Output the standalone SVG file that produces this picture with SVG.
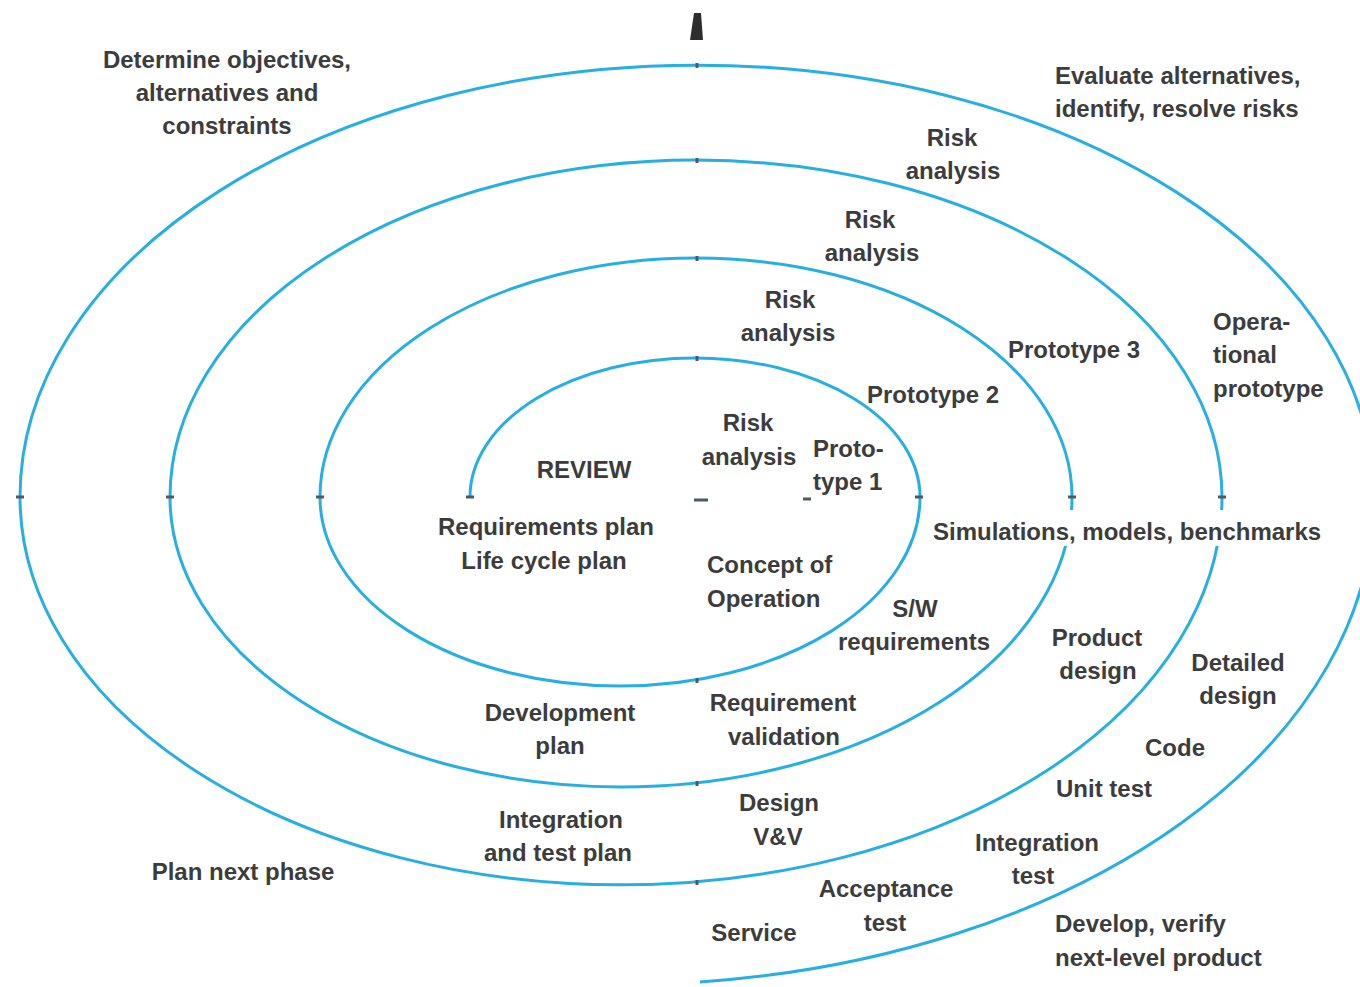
<svg xmlns="http://www.w3.org/2000/svg" width="1360" height="987" viewBox="0 0 1360 987">
<style>
.arc{fill:none;stroke:#27afe3;stroke-width:3}
.tick{stroke:#4b5b66;stroke-width:3}
text{font-family:"Liberation Sans",Arial,sans-serif;font-size:24px;font-weight:bold;fill:#3c3c3c}
.m{text-anchor:middle}
</style>
<rect width="1360" height="987" fill="#ffffff"/>
<g id="connectors">
<path class="arc" d="M470,497 A225,139 0 0 1 920,497 A300,189 0 0 1 320,497 A376,239 0 0 1 1072,497 A451,290 0 0 1 170,497 A526,337 0 0 1 1222,497 A601,388 0 0 1 20,497 A677,432 0 0 1 1374,497 A753,487 0 0 1 700,982"/>
</g>
<g id="axis-marks">
<path d="M694,13 L701,13 L703,40 L690,40 Z" fill="#2e2e2e"/>
<g class="tick">
<line x1="16" y1="497" x2="24" y2="497"/>
<line x1="166" y1="497" x2="174" y2="497"/>
<line x1="316" y1="497" x2="324" y2="497"/>
<line x1="466" y1="497" x2="474" y2="497"/>
<line x1="915" y1="497" x2="923" y2="497"/>
<line x1="1068" y1="497" x2="1076" y2="497"/>
<line x1="1218" y1="497" x2="1226" y2="497"/>
<line x1="694" y1="500" x2="708" y2="500"/>
<line x1="803" y1="499" x2="811" y2="499"/>
<line x1="697" y1="63" x2="697" y2="68"/>
<line x1="697" y1="158" x2="697" y2="163"/>
<line x1="697" y1="256" x2="697" y2="261"/>
<line x1="697" y1="356" x2="697" y2="361"/>
<line x1="697" y1="678" x2="697" y2="683"/>
<line x1="697" y1="781" x2="697" y2="786"/>
<line x1="697" y1="880" x2="697" y2="885"/>
</g>
</g>
<g id="determine"><text class="m" x="227" y="68">Determine objectives,</text><text class="m" x="227" y="101">alternatives and</text><text class="m" x="227" y="134">constraints</text></g>
<g id="evaluate"><text x="1055" y="84">Evaluate alternatives,</text><text x="1055" y="117">identify, resolve risks</text></g>
<g id="risk4"><text class="m" x="952" y="146">Risk</text><text class="m" x="953" y="179">analysis</text></g>
<g id="risk3"><text class="m" x="870" y="228">Risk</text><text class="m" x="872" y="261">analysis</text></g>
<g id="risk2"><text class="m" x="790" y="308">Risk</text><text class="m" x="788" y="341">analysis</text></g>
<g id="risk1"><text class="m" x="748" y="431">Risk</text><text class="m" x="749" y="465">analysis</text></g>
<g id="proto1"><text x="813" y="457">Proto-</text><text x="813" y="490">type 1</text></g>
<g id="proto2"><text class="m" x="933" y="403">Prototype 2</text></g>
<g id="proto3"><text class="m" x="1074" y="358">Prototype 3</text></g>
<g id="opproto"><text x="1213" y="330">Opera-</text><text x="1213" y="363">tional</text><text x="1213" y="397">prototype</text></g>
<g id="review"><text class="m" x="584" y="478">REVIEW</text></g>
<g id="reqplan"><text class="m" x="546" y="535">Requirements plan</text><text class="m" x="544" y="569">Life cycle plan</text></g>
<g id="concept"><text x="707" y="573">Concept of</text><text x="707" y="607">Operation</text></g>
<g id="simulations"><rect x="930" y="510" width="398" height="36" fill="#ffffff"/><text x="933" y="540">Simulations, models, benchmarks</text></g>
<g id="swreq"><text class="m" x="915" y="617">S/W</text><text class="m" x="914" y="650">requirements</text></g>
<g id="product"><text class="m" x="1097" y="646">Product</text><text class="m" x="1098" y="679">design</text></g>
<g id="detailed"><text class="m" x="1238" y="671">Detailed</text><text class="m" x="1238" y="704">design</text></g>
<g id="devplan"><text class="m" x="560" y="721">Development</text><text class="m" x="560" y="754">plan</text></g>
<g id="reqval"><text class="m" x="783" y="711">Requirement</text><text class="m" x="784" y="745">validation</text></g>
<g id="code"><text class="m" x="1175" y="756">Code</text></g>
<g id="unittest"><text class="m" x="1104" y="797">Unit test</text></g>
<g id="integration"><text class="m" x="1037" y="851">Integration</text><text class="m" x="1033" y="884">test</text></g>
<g id="designvv"><text class="m" x="779" y="811">Design</text><text class="m" x="778" y="845">V&amp;V</text></g>
<g id="inttestplan"><text class="m" x="561" y="828">Integration</text><text class="m" x="558" y="861">and test plan</text></g>
<g id="planphase"><text class="m" x="243" y="880">Plan next phase</text></g>
<g id="acceptance"><text class="m" x="886" y="897">Acceptance</text><text class="m" x="885" y="931">test</text></g>
<g id="service"><text class="m" x="754" y="941">Service</text></g>
<g id="develop"><text x="1055" y="932">Develop, verify</text><text x="1055" y="966">next-level product</text></g>
</svg>
